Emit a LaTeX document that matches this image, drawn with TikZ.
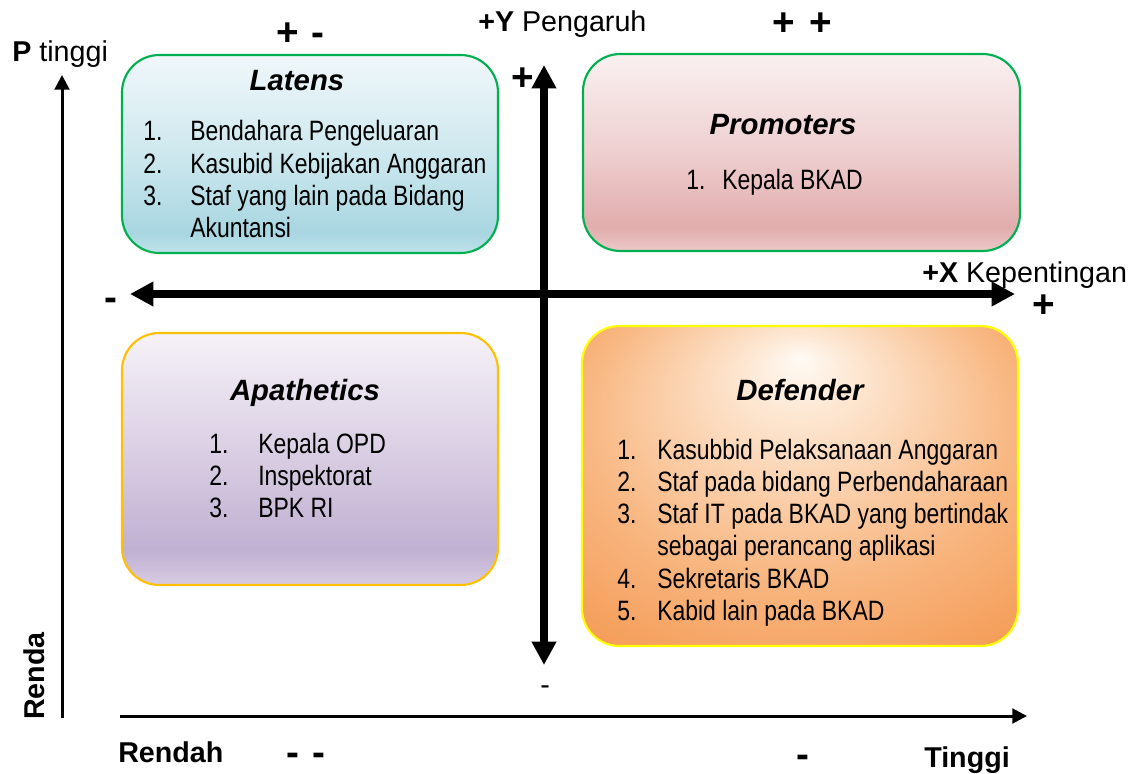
\documentclass[tikz,border=0pt]{standalone}
\usepackage{fontspec}
\setmainfont{Liberation Sans}
\newfontfamily\narrowfont[FakeStretch=0.82]{Liberation Sans}
\usetikzlibrary{arrows.meta}

% quadrant fills
\definecolor{latT}{RGB}{240,247,250}
\definecolor{latM}{RGB}{205,232,238}
\definecolor{latD}{RGB}{168,214,225}
\definecolor{latE}{RGB}{192,226,234}
\definecolor{proT}{RGB}{250,240,240}
\definecolor{proM}{RGB}{238,207,208}
\definecolor{proD}{RGB}{226,172,172}
\definecolor{proE}{RGB}{236,200,200}
\definecolor{apaT}{RGB}{246,242,248}
\definecolor{apaM}{RGB}{216,204,226}
\definecolor{apaD}{RGB}{192,176,210}
\definecolor{apaE}{RGB}{216,204,226}
\definecolor{defA}{RGB}{255,250,245}
\definecolor{defB}{RGB}{253,232,212}
\definecolor{defC}{RGB}{248,182,128}
\definecolor{defD}{RGB}{244,152,80}
% borders
\definecolor{bgreen}{RGB}{0,176,80}
\definecolor{borange}{RGB}{255,192,0}
\definecolor{byellow}{RGB}{255,255,0}

\pgfdeclareverticalshading{latshade}{100bp}{color(0bp)=(latE); color(25bp)=(latE); color(30bp)=(latD); color(50bp)=(latM); color(75bp)=(latT); color(100bp)=(latT)}
\pgfdeclareverticalshading{proshade}{100bp}{color(0bp)=(proE); color(25bp)=(proE); color(31bp)=(proD); color(50bp)=(proM); color(75bp)=(proT); color(100bp)=(proT)}
\pgfdeclareverticalshading{apashade}{100bp}{color(0bp)=(apaE); color(25bp)=(apaE); color(32bp)=(apaD); color(50bp)=(apaM); color(75bp)=(apaT); color(100bp)=(apaT)}
\pgfdeclareradialshading{defshade}{\pgfpoint{0bp}{20bp}}{color(0bp)=(defA); color(6bp)=(defB); color(25bp)=(defC); color(40bp)=(defD); color(50bp)=(defD)}

\begin{document}
\begin{tikzpicture}[x=0.75pt, y=-0.75pt,
  quad/.style={rounded corners=28pt, line width=1.6pt, inner sep=0pt, outer sep=0pt},
  ttl/.style={font=\fontsize{22}{26}\selectfont\bfseries\itshape, anchor=base, inner sep=0pt},
  lst/.style={font=\narrowfont\fontsize{21}{24.2}\selectfont, anchor=base west, inner sep=0pt, align=left},
  lbl/.style={font=\fontsize{21.5}{25}\selectfont, anchor=base west, inner sep=0pt},
  sign/.style={font=\fontsize{29}{33}\selectfont\bfseries, anchor=base, inner sep=0pt},
  bigaxis/.style={line width=5.8pt, {Triangle[length=17.5pt,width=17.5pt]}-{Triangle[length=17.5pt,width=17.5pt]}},
  thinaxis/.style={line width=2.25pt, -{Triangle[length=11pt,width=11pt]}}]
\useasboundingbox (0,0) rectangle (1143,774);

% quadrant boxes
\node[quad, draw=bgreen, shading=latshade, minimum width=282pt, minimum height=148.5pt] (latens) at (310,154) {};
\node[quad, draw=bgreen, shading=proshade, minimum width=327.75pt, minimum height=147.75pt] (promoters) at (801.5,152.5) {};
\node[quad, draw=borange, shading=apashade, minimum width=282pt, minimum height=189pt] (apathetics) at (310,459) {};
\node[quad, draw=byellow, shading=defshade, minimum width=327pt, minimum height=240pt] (defender) at (800,486) {};

% titles
\node[ttl] (latensT) at (297,91) {Latens};
\node[ttl] (promotersT) at (783,134) {Promoters};
\node[ttl] (apatheticsT) at (305,400) {Apathetics};
\node[ttl] (defenderT) at (800,400) {Defender};

% member lists
\node[lst] (latensL) at (143,141) {\begin{tabular}[t]{@{}p{35.25pt}@{}l@{}}
1. & Bendahara Pengeluaran\\
2. & Kasubid Kebijakan Anggaran\\
3. & Staf yang lain pada Bidang\\
   & Akuntansi
\end{tabular}};
\node[lst] (promotersL) at (686,190) {\begin{tabular}[t]{@{}p{27pt}@{}l@{}}
1. & Kepala BKAD
\end{tabular}};
\node[lst] (apatheticsL) at (209,453) {\begin{tabular}[t]{@{}p{36.75pt}@{}l@{}}
1. & Kepala OPD\\
2. & Inspektorat\\
3. & BPK RI
\end{tabular}};
\node[lst] (defenderL) at (617,459) {\begin{tabular}[t]{@{}p{30pt}@{}l@{}}
1. & Kasubbid Pelaksanaan Anggaran\\
2. & Staf pada bidang Perbendaharaan\\
3. & Staf IT pada BKAD yang bertindak\\
   & sebagai perancang aplikasi\\
4. & Sekretaris BKAD\\
5. & Kabid lain pada BKAD
\end{tabular}};

% axis end points
\coordinate (vtop) at (544,65);
\coordinate (vbot) at (544,665);
\coordinate (hleft) at (130,294);
\coordinate (hright) at (1015,294);
\coordinate (ltop) at (62,75);
\coordinate (lbot) at (62,718);
\coordinate (bleft) at (120,716);
\coordinate (bright) at (1027,716);

\draw[bigaxis] (vbot) -- (vtop);
\draw[bigaxis] (hleft) -- (hright);
\draw[thinaxis] (lbot) -- (ltop);
\draw[thinaxis] (bleft) -- (bright);

% axis labels
\node[lbl] (ptinggi) at (12,62) {\textbf{P} tinggi};
\node[lbl] (yaxis) at (478,32) {\textbf{+Y} Pengaruh};
\node[lbl] (xaxis) at (922,282) {\textbf{+X} Kepentingan};
\node[lbl] (yminus) at (540,694) {-};
\node[lbl, rotate=90] (renda) at (45,720) {\textbf{Renda}};
\node[lbl] (rendah) at (118,762) {\textbf{Rendah}};
\node[lbl] (tinggi) at (924,767) {\textbf{Tinggi}};

% quadrant signs
\node[sign] (pmA) at (287.5,46) {+};
\node[sign] (pmB) at (318,46) {-};
\node[sign] (ppA) at (783.5,35.5) {+};
\node[sign] (ppB) at (821,35.5) {+};
\node[sign] (yplus) at (523,91) {+};
\node[sign] (xplus) at (1043.5,317) {+};
\node[sign] (xminus) at (110.5,310) {-};
\node[sign] (mmA) at (292.5,765) {-};
\node[sign] (mmB) at (319,765) {-};
\node[sign] (bminus) at (802.5,767) {-};
\end{tikzpicture}
\end{document}
